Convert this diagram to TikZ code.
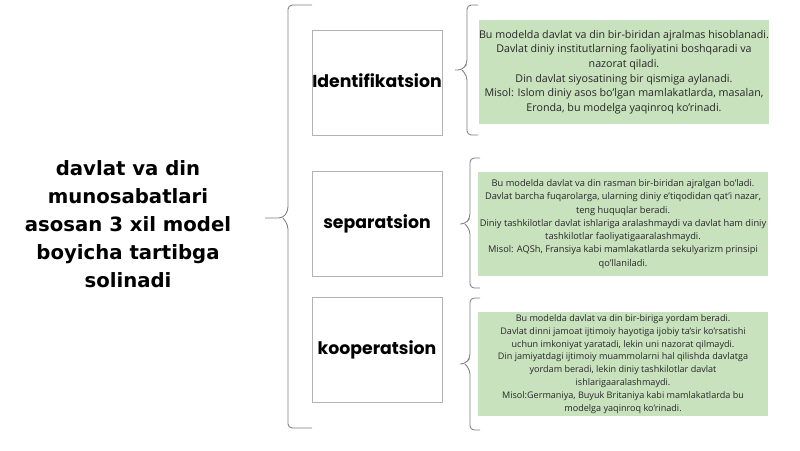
\documentclass[tikz,border=0pt]{standalone}
\usepackage{fontspec}
\setmainfont{Open Sans}
\newfontfamily\labelfont{Poppins}
\newfontfamily\leadfont{DejaVu Sans}
\definecolor{notegreen}{RGB}{201,226,190}
\definecolor{linegray}{RGB}{125,125,125}

\begin{document}
\begin{tikzpicture}[x=0.025cm,y=-0.025cm,
  lead/.style={align=center,font=\leadfont\bfseries\fontsize{14}{19.8}\selectfont},
  model/.style={draw=gray!60,line width=0.5pt,minimum width=3.25cm,minimum height=2.625cm,
    inner sep=0pt,font=\labelfont\bfseries\fontsize{12.3}{14}\selectfont},
  note/.style={fill=notegreen,minimum width=7.25cm,minimum height=2.6cm,align=center,
    inner sep=0pt,text=black!85},
  brc/.style={draw=linegray,line width=0.6pt,rounded corners=3pt}]

\useasboundingbox (0,0) rectangle (800,450);

% chap matn
\node[lead] (T) at (128,224) {davlat va din\\munosabatlari\\asosan 3 xil model\\boyicha tartibga\\solinadi};

% katta qavs
\draw[brc] (312,5) -- (288,5) -- (288,211) -- (283,218) -- (265,218);
\draw[brc] (283,218) -- (288,225) -- (288,428) -- (312,428);

% modellar
\node[model] (M1) at (377,83) {\raisebox{3pt}{Identifikatsion}};
\node[model] (M2) at (377,224) {separatsion};
\node[model] (M3) at (377,350) {kooperatsion};

% kichik qavslar
\draw[brc] (478,5) -- (467,5) -- (467,64) -- (462,70) -- (455,70);
\draw[brc] (462,70) -- (467,76) -- (467,135) -- (478,135);

\draw[brc] (480,158) -- (470,158) -- (470,218) -- (465,224) -- (460,224);
\draw[brc] (465,224) -- (470,230) -- (470,288) -- (480,288);

\draw[brc] (480,298) -- (470,298) -- (470,358) -- (465,364) -- (460,364);
\draw[brc] (465,364) -- (470,370) -- (470,430) -- (480,430);

% izohlar
\node[note,font=\fontsize{7.6}{10.4}\selectfont] (N1) at (624,72)
  {Bu modelda davlat va din bir-biridan ajralmas hisoblanadi.\\
   Davlat diniy institutlarning faoliyatini boshqaradi va\\
   nazorat qiladi.\\
   Din davlat siyosatining bir qismiga aylanadi.\\
   Misol: Islom diniy asos bo'lgan mamlakatlarda, masalan,\\
   Eronda, bu modelga yaqinroq ko'rinadi.};

\node[note,font=\fontsize{6.6}{9.4}\selectfont] (N2) at (623,224)
  {Bu modelda davlat va din rasman bir-biridan ajralgan bo'ladi.\\
   Davlat barcha fuqarolarga, ularning diniy e'tiqodidan qat'i nazar,\\
   teng huquqlar beradi.\\
   Diniy tashkilotlar davlat ishlariga aralashmaydi va davlat ham diniy\\
   tashkilotlar faoliyatigaaralashmaydi.\\
   Misol: AQSh, Fransiya kabi mamlakatlarda sekulyarizm prinsipi\\
   qo'llaniladi.};

\node[note,font=\fontsize{6.45}{9.1}\selectfont] (N3) at (623,364)
  {Bu modelda davlat va din bir-biriga yordam beradi.\\
   Davlat dinni jamoat ijtimoiy hayotiga ijobiy ta'sir ko'rsatishi\\
   uchun imkoniyat yaratadi, lekin uni nazorat qilmaydi.\\
   Din jamiyatdagi ijtimoiy muammolarni hal qilishda davlatga\\
   yordam beradi, lekin diniy tashkilotlar davlat\\
   ishlarigaaralashmaydi.\\
   Misol:Germaniya, Buyuk Britaniya kabi mamlakatlarda bu\\
   modelga yaqinroq ko'rinadi.};

\end{tikzpicture}
\end{document}
